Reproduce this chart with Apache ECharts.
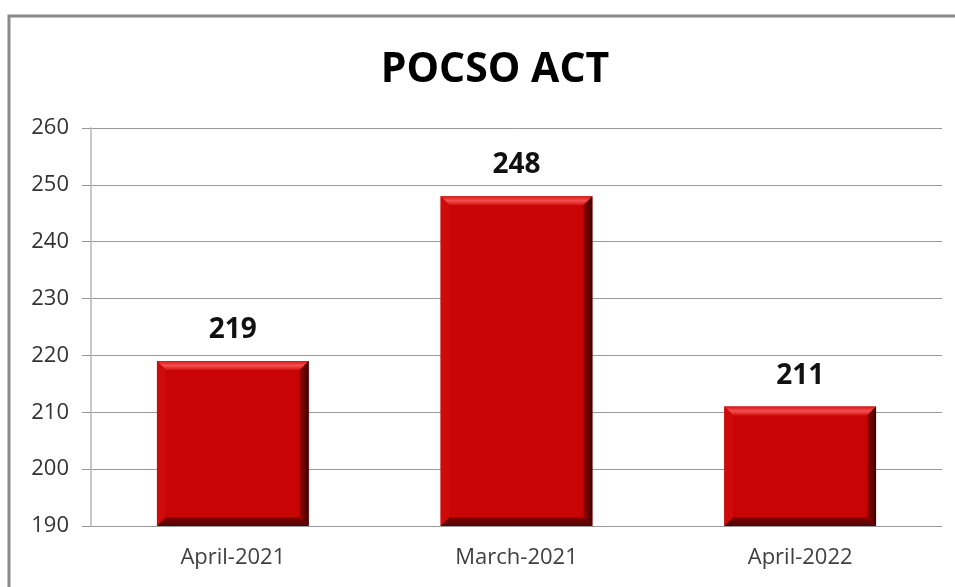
<!DOCTYPE html>
<html>
<head>
<meta charset="utf-8">
<script src="https://cdn.jsdelivr.net/npm/echarts@6/dist/echarts.min.js"></script>
<style>
  html, body { margin: 0; padding: 0; background: #fff; }
  #chart { width: 955px; height: 587px; }
</style>
</head>
<body>
<div id="chart"></div>
<script>
// data
var categories = ['April-2021', 'March-2021', 'April-2022'];
var values = [219, 248, 211];
var yMin = 190, yMax = 260, yStep = 10;

var chart = echarts.init(document.getElementById('chart'));

// bar with bevelled edges, like the office chart
function bevelBar(params, api) {
  var idx = api.value(0);
  var val = api.value(1);
  var top = api.coord([idx, val]);
  var bottom = api.coord([idx, yMin]);
  var w = api.size([1, 0])[0] * 0.535;
  var x0 = top[0] - w / 2, x1 = top[0] + w / 2;
  var y0 = top[1], y1 = bottom[1];
  var b = 9;
  return {
    type: 'group',
    children: [
      { type: 'rect', shape: { x: x0, y: y0, width: w, height: y1 - y0 },
        style: { fill: '#c90404' } },
      { type: 'polygon', shape: { points: [[x0, y0], [x1, y0], [x1 - b, y0 + b], [x0 + b, y0 + b]] },
        style: { fill: new echarts.graphic.LinearGradient(0, 0, 0, 1, [
          { offset: 0, color: '#d51a1a' }, { offset: 0.5, color: '#f45050' }, { offset: 1, color: '#d41010' }]) } },
      { type: 'polygon', shape: { points: [[x0, y0], [x0 + b, y0 + b], [x0 + b, y1 - b], [x0, y1]] },
        style: { fill: '#cf0a0a' } },
      { type: 'polygon', shape: { points: [[x1, y0], [x1, y1], [x1 - b, y1 - b], [x1 - b, y0 + b]] },
        style: { fill: new echarts.graphic.LinearGradient(0, 0, 1, 0, [
          { offset: 0, color: '#9a0000' }, { offset: 1, color: '#3a0000' }]) } },
      { type: 'polygon', shape: { points: [[x0, y1], [x0 + b, y1 - b], [x1 - b, y1 - b], [x1, y1]] },
        style: { fill: new echarts.graphic.LinearGradient(0, 0, 0, 1, [
          { offset: 0, color: '#8a0000' }, { offset: 1, color: '#4a0808' }]) } },
      { type: 'text', x: top[0], y: y0 - 17,
        style: { text: String(val), fill: '#111', font: 'bold 28px "Open Sans", sans-serif',
                 align: 'center', verticalAlign: 'bottom' } }
    ]
  };
}

var option = {
  backgroundColor: '#fff',
  title: {
    text: 'POCSO ACT',
    left: 490,
    top: 45,
    textAlign: 'center',
    textStyle: { fontSize: 41, fontWeight: 'bold', color: '#000', fontFamily: 'Open Sans' }
  },
  graphic: [{
    type: 'rect',
    shape: { x: 9, y: 16, width: 1000, height: 620 },
    style: { fill: 'none', stroke: '#8a8a8a', lineWidth: 3 },
    silent: true
  }],
  grid: { left: 91, right: 13, top: 128, bottom: 61 },
  xAxis: {
    type: 'category',
    data: categories,
    axisLine: { show: false },
    axisTick: { show: false },
    axisLabel: { fontSize: 22, color: '#404040', fontFamily: 'Open Sans', margin: 21 }
  },
  yAxis: {
    type: 'value',
    min: yMin, max: yMax, interval: yStep,
    axisLine: { show: true, lineStyle: { color: '#c8c8c8', width: 2 } },
    axisTick: { show: true, length: 9, inside: false, lineStyle: { color: '#999' } },
    splitLine: { lineStyle: { color: '#999', width: 1 } },
    axisLabel: { fontSize: 22, color: '#333', fontFamily: 'Open Sans', margin: 22 }
  },
  series: [{
    type: 'custom',
    renderItem: bevelBar,
    data: values.map(function (v, i) { return [i, v]; }),
    encode: { x: 0, y: 1 },
    clip: false
  }]
};
chart.setOption(option);
</script>
</body>
</html>
